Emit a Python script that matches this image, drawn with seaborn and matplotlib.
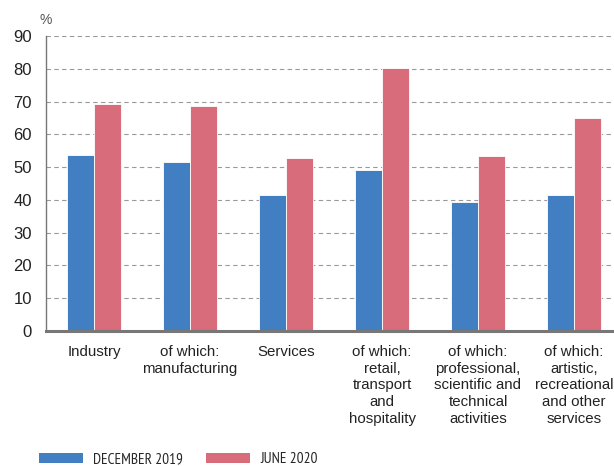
import matplotlib
matplotlib.use('Agg')
import matplotlib.pyplot as plt
import pandas as pd
import seaborn as sns
from matplotlib.patches import Patch

# Data
categories = [
    'Industry',
    'of which:\nmanufacturing',
    'Services',
    'of which:\nretail,\ntransport\nand\nhospitality',
    'of which:\nprofessional,\nscientific and\ntechnical\nactivities',
    'of which:\nartistic,\nrecreational\nand other\nservices',
]
dec_2019 = [53.7, 51.5, 41.4, 49.2, 39.5, 41.5]
jun_2020 = [69.2, 68.5, 52.8, 80.1, 53.5, 65.0]
series = ['DECEMBER 2019', 'JUNE 2020']
colors = ['#417fc2', '#d86c7a']

df = pd.DataFrame({
    'category': categories * 2,
    'value': dec_2019 + jun_2020,
    'series': [series[0]] * len(categories) + [series[1]] * len(categories),
})

sns.set_style('white')
plt.rcParams['font.family'] = ['Liberation Sans', 'DejaVu Sans']

fig = plt.figure(figsize=(6.14, 4.66), dpi=100)
ax = fig.add_axes([46 / 614, 135 / 466, 576 / 614, 295 / 466])

sns.barplot(data=df, x='category', y='value', hue='series', hue_order=series,
            palette=colors, width=0.57, gap=0, edgecolor='white', linewidth=0.6,
            saturation=1, ax=ax, legend=False)

ax.set_xlim(-0.5, 5.5)
ax.set_ylim(0, 90)
ax.set_yticks(range(0, 91, 10))
ax.set_xlabel('')
ax.set_ylabel('')

# Grid
ax.yaxis.grid(True, color='#9a9a9a', linestyle=(0, (4, 3)), linewidth=0.8)
ax.xaxis.grid(False)
ax.set_axisbelow(True)

# Spines
for s in ['top', 'right']:
    ax.spines[s].set_visible(False)
ax.spines['left'].set_color('#777777')
ax.spines['left'].set_linewidth(1.0)
ax.spines['bottom'].set_color('#777777')
ax.spines['bottom'].set_linewidth(2.2)

# Ticks
ax.tick_params(axis='y', length=0, pad=10, labelsize=12, labelcolor='#222222')
ax.tick_params(axis='x', which='major', length=0, pad=10, labelsize=10.8,
               labelcolor='#222222')
ax.set_xticks([i + 0.5 for i in range(len(categories) - 1)], minor=True)
ax.tick_params(axis='x', which='minor', direction='in', length=3, width=1.2,
               color='#aaaaaa')
for lab in ax.get_xticklabels():
    lab.set_ha('center')
    lab.set_va('top')
    lab.set_linespacing(1.25)

fig.text(40 / 614, 1 - 20 / 466, '%', fontsize=10, color='#555555',
         ha='left', va='center')

handles = [Patch(facecolor=c, edgecolor='none') for c in colors]
fig.legend(handles, series, loc='lower left', bbox_to_anchor=(25 / 614, -0.03),
           ncol=2, frameon=False, handlelength=2.9, handleheight=0.65,
           handletextpad=0.65, columnspacing=1.5,
           prop={'family': ['PT Sans Narrow', 'Liberation Sans'], 'size': 11})

fig.savefig('out.png', dpi=100)
